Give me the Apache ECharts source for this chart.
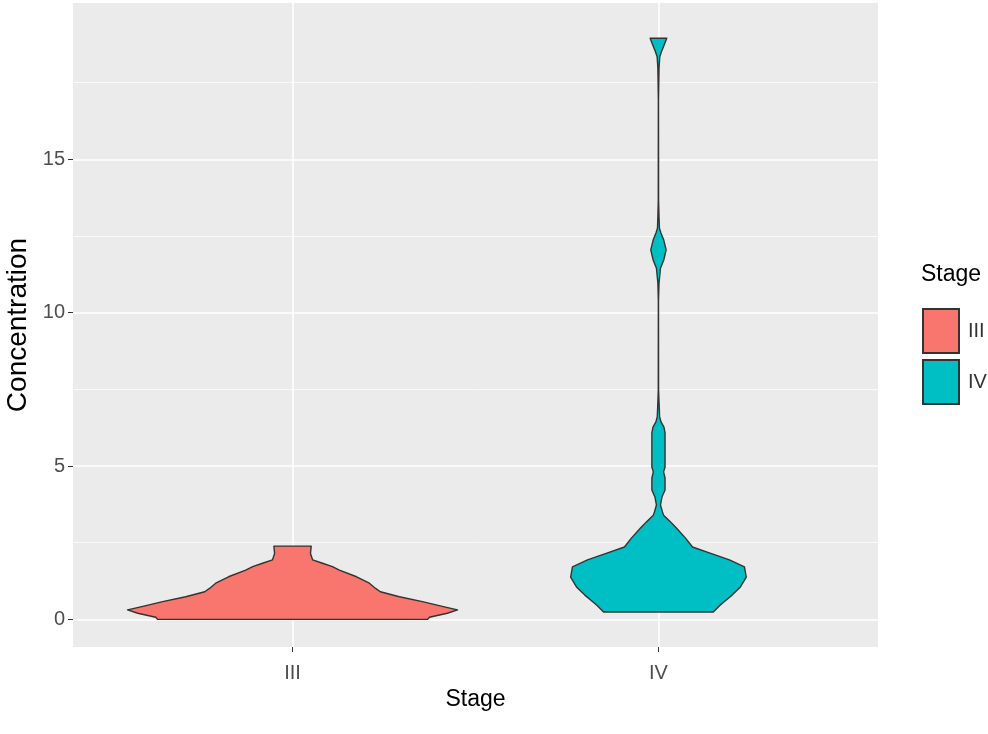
<!DOCTYPE html>
<html>
<head>
<meta charset="utf-8">
<script src="https://cdn.jsdelivr.net/npm/echarts@6/dist/echarts.min.js"></script>
<style>
  html, body { margin: 0; padding: 0; background: #ffffff; }
  #chart { width: 988px; height: 734px; }
</style>
</head>
<body>
<div id="chart"></div>
<script>
// Stage categories and their positions on the x scale
const stages = ['III', 'IV'];
const stagePositions = [1, 2];

// Concentration axis ticks
const yTicks = [0, 5, 10, 15];
const yMinorTicks = [2.5, 7.5, 12.5, 17.5];

// Violin outline for stage III: concentration levels and density half-widths (x units)
const iiiConc = [0.00, 0.07, 0.20, 0.31, 0.41, 0.58, 0.74, 0.90, 1.01, 1.18, 1.39, 1.61, 1.72, 1.83, 1.94, 2.15, 2.39];
const iiiHalfWidth = [0.369, 0.374, 0.423, 0.451, 0.415, 0.355, 0.292, 0.240, 0.227, 0.210, 0.175, 0.128, 0.109, 0.082, 0.055, 0.049, 0.051];

// Violin outline for stage IV
const ivConc = [0.24, 0.47, 0.80, 1.06, 1.38, 1.71, 1.94, 2.17, 2.36, 2.65, 2.98, 3.18, 3.40, 3.50, 3.73, 3.99, 4.22, 4.61, 4.81, 4.97, 5.52, 6.08, 6.27, 6.44, 6.60, 7.09, 7.48, 10.40, 10.97, 11.45, 11.72, 12.05, 12.37, 12.60, 12.76, 13.12, 13.67, 16.93, 17.98, 18.35, 18.51, 18.73, 18.95];
const ivHalfWidth = [0.150, 0.169, 0.202, 0.224, 0.240, 0.235, 0.194, 0.139, 0.093, 0.074, 0.049, 0.033, 0.014, 0.011, 0.0055, 0.0096, 0.018, 0.018, 0.014, 0.018, 0.018, 0.018, 0.015, 0.007, 0.0033, 0.0016, 0.0005, 0.0003, 0.0016, 0.0055, 0.0145, 0.021, 0.0145, 0.0068, 0.0027, 0.0016, 0.0005, 0.0003, 0.0016, 0.0036, 0.0082, 0.0156, 0.0227];

const FONT = '"Liberation Sans", Arial, sans-serif';

// Builds a mirrored polygon around the category position
function violinRenderer(conc, halfWidth) {
  return function (params, api) {
    const pos = api.value(0);
    const pts = [];
    for (let i = 0; i < conc.length; i++) {
      pts.push(api.coord([pos + halfWidth[i], conc[i]]));
    }
    for (let i = conc.length - 1; i >= 0; i--) {
      pts.push(api.coord([pos - halfWidth[i], conc[i]]));
    }
    return {
      type: 'polygon',
      shape: { points: pts },
      style: {
        fill: api.visual('color'),
        stroke: '#333333',
        lineWidth: 1.4,
        lineJoin: 'round'
      }
    };
  };
}

const chart = echarts.init(document.getElementById('chart'), null, { renderer: 'canvas' });

chart.setOption({
  animation: false,
  backgroundColor: '#ffffff',
  title: {
    text: 'Stage',
    left: 916,
    top: 258,
    textStyle: { fontFamily: FONT, fontSize: 23, fontWeight: 'normal', color: '#000000' }
  },
  legend: {
    data: stages,
    orient: 'vertical',
    left: 917,
    top: 303,
    icon: 'rect',
    itemWidth: 36,
    itemHeight: 44,
    itemGap: 5,
    textStyle: { fontFamily: FONT, fontSize: 20, color: '#333333', padding: [0, 0, 0, 4] }
  },
  grid: {
    left: 73,
    right: 110,
    top: 3,
    bottom: 87,
    outerBoundsMode: 'none',
    containLabel: false,
    show: true,
    backgroundColor: '#EBEBEB',
    borderWidth: 0
  },
  xAxis: {
    type: 'value',
    min: 0.4,
    max: 2.6,
    name: 'Stage',
    nameLocation: 'middle',
    nameGap: 39,
    nameTextStyle: { fontFamily: FONT, fontSize: 23, color: '#000000' },
    axisLine: { show: false, onZero: false },
    axisTick: { show: true, length: 5, customValues: stagePositions, lineStyle: { color: '#333333', width: 1 } },
    axisLabel: {
      customValues: stagePositions,
      margin: 16,
      fontFamily: FONT,
      fontSize: 20,
      color: '#4D4D4D',
      formatter: function (v) { return stages[Math.round(v) - 1]; }
    },
    splitLine: { show: true, lineStyle: { color: '#ffffff', width: 1.6 } }
  },
  yAxis: [
    {
      type: 'value',
      min: -0.9,
      max: 20.1,
      name: 'Concentration',
      nameLocation: 'middle',
      nameGap: 36,
      nameTextStyle: { fontFamily: FONT, fontSize: 28, color: '#000000' },
      axisLine: { show: false, onZero: false },
      axisTick: { show: true, length: 5, customValues: yTicks, lineStyle: { color: '#333333', width: 1 } },
      axisLabel: {
        customValues: yTicks,
        margin: 8,
        fontFamily: FONT,
        fontSize: 20,
        color: '#4D4D4D'
      },
      splitLine: { show: true, lineStyle: { color: '#ffffff', width: 1.6 } }
    },
    {
      type: 'value',
      min: -0.9,
      max: 20.1,
      position: 'left',
      axisLine: { show: false, onZero: false },
      axisTick: { show: false, customValues: yMinorTicks },
      axisLabel: { show: false, customValues: yMinorTicks },
      splitLine: { show: true, lineStyle: { color: '#FAFAFA', width: 0.9 } }
    }
  ],
  series: [
    {
      name: 'III',
      type: 'custom',
      coordinateSystem: 'cartesian2d',
      xAxisIndex: 0,
      yAxisIndex: 0,
      itemStyle: { color: '#F8766D', borderColor: '#333333', borderWidth: 1.2 },
      renderItem: violinRenderer(iiiConc, iiiHalfWidth),
      encode: { x: 0, y: 1 },
      data: [[stagePositions[0], 0]]
    },
    {
      name: 'IV',
      type: 'custom',
      coordinateSystem: 'cartesian2d',
      xAxisIndex: 0,
      yAxisIndex: 0,
      itemStyle: { color: '#00BFC4', borderColor: '#333333', borderWidth: 1.2 },
      renderItem: violinRenderer(ivConc, ivHalfWidth),
      encode: { x: 0, y: 1 },
      data: [[stagePositions[1], 0]]
    }
  ]
});
</script>
</body>
</html>
